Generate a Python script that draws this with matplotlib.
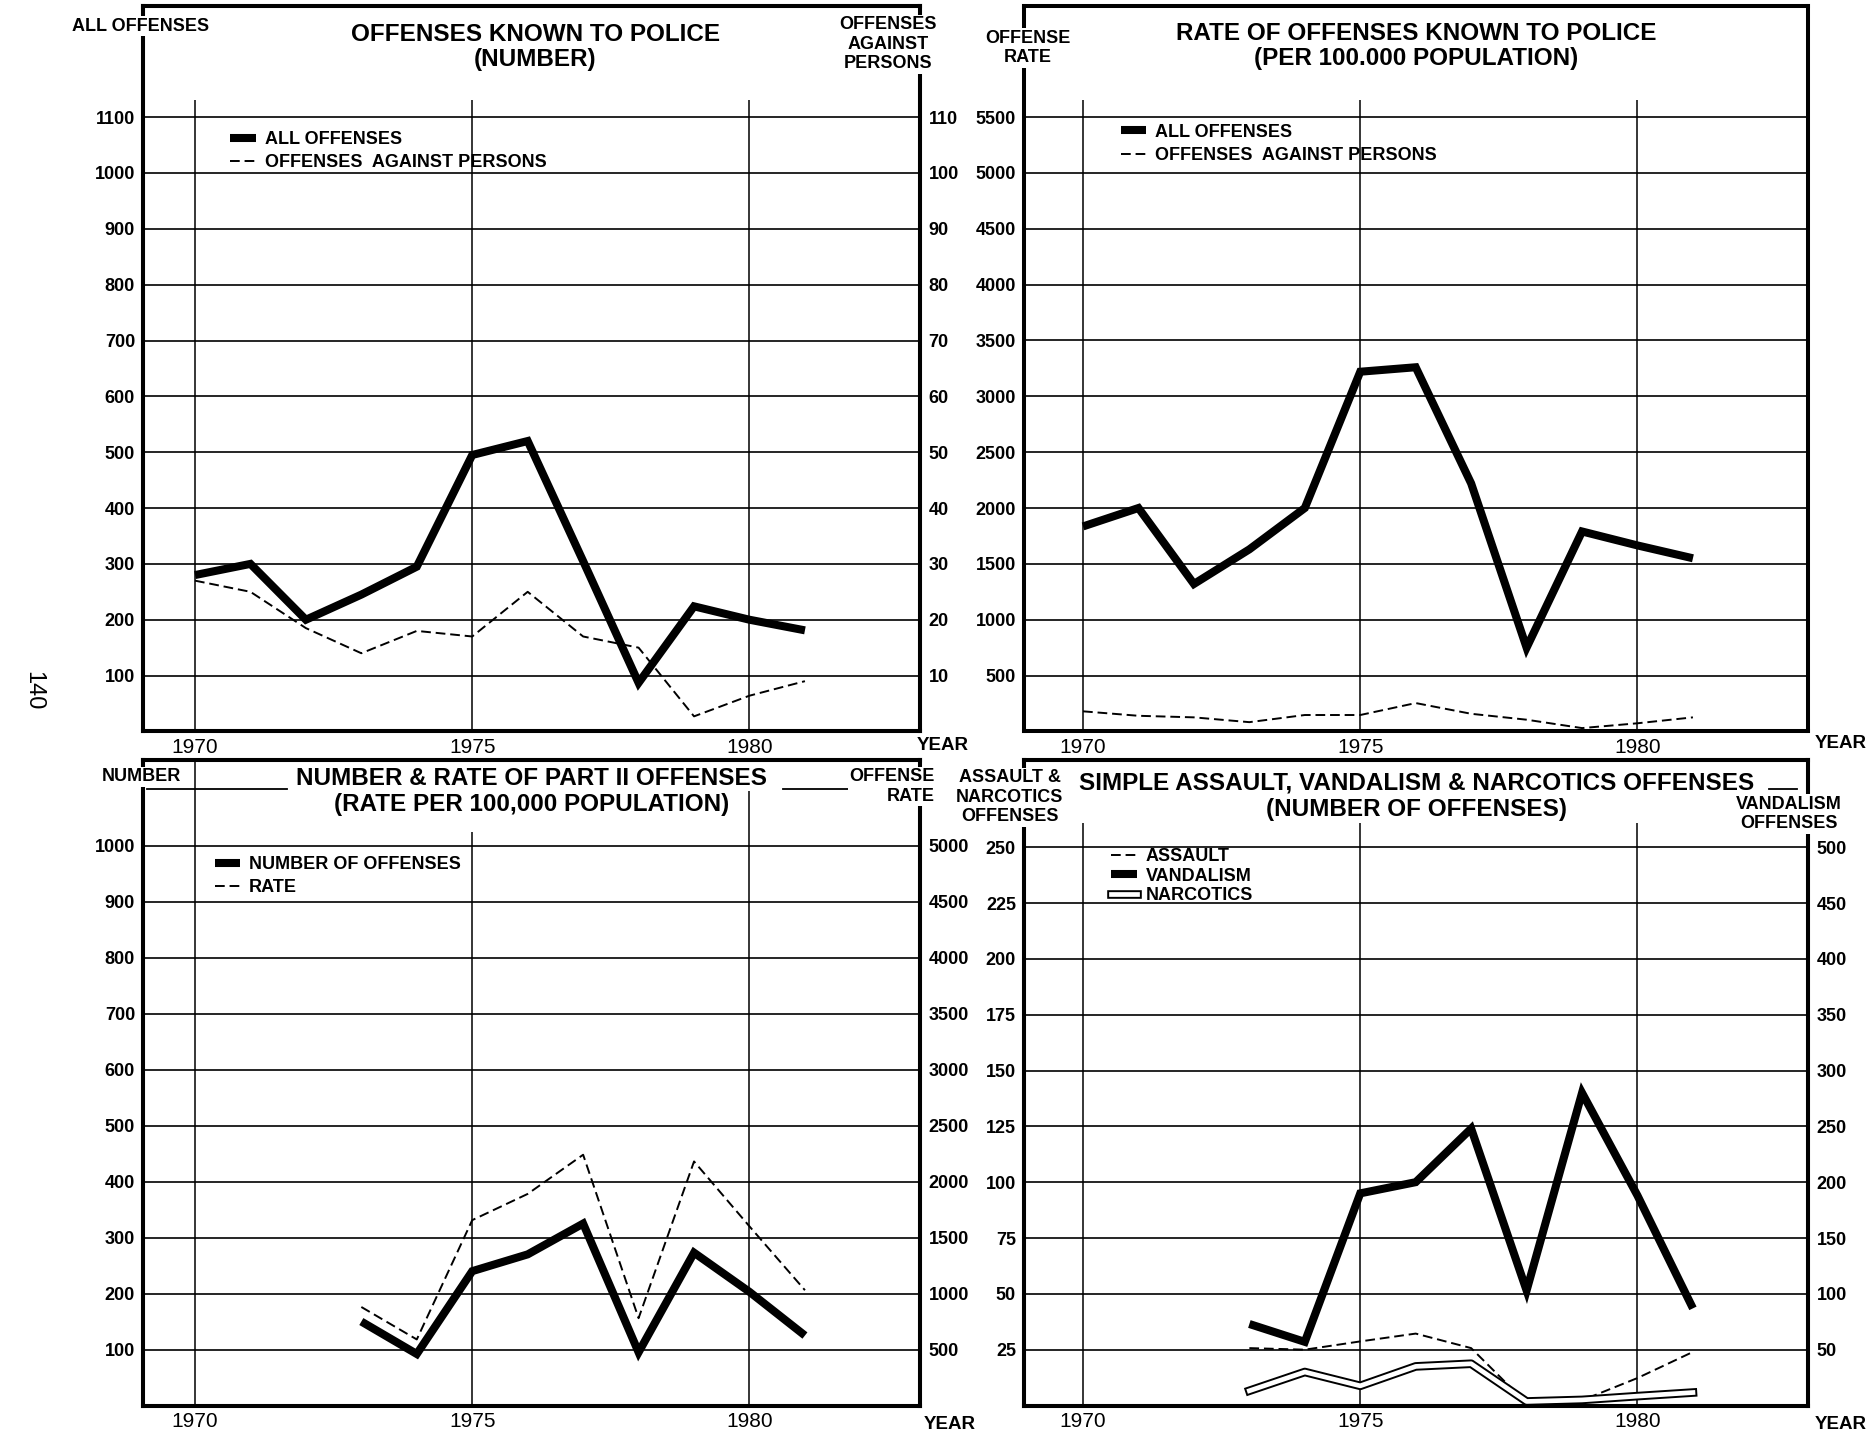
import matplotlib
matplotlib.use('Agg')
import matplotlib.pyplot as plt
import matplotlib.patheffects as pe

plt.rcParams['font.family'] = ['Liberation Sans', 'DejaVu Sans']

# data
years = list(range(1970, 1982))
all_offenses = [280, 300, 200, 245, 295, 495, 520, 305, 87, 224, 200, 181]
against_persons = [27, 25, 18.5, 14, 18, 17, 25, 17, 15, 2.7, 6.4, 9]

rate_all = [1835, 2000, 1320, 1630, 2000, 3220, 3260, 2220, 750, 1790, 1665, 1550]
rate_persons = [180, 140, 126, 83, 147, 147, 254, 158, 105, 30, 73, 126]

part2_years = list(range(1973, 1982))
part2_number = [150, 92, 240, 270, 325, 95, 273, 203, 125]
part2_rate = [880, 590, 1656, 1890, 2240, 780, 2180, 1600, 1030]

assault = [25.7, 25, 28.7, 32.2, 25.7, 1.0, 2.3, 12.3, 24]
vandalism = [73, 57, 190, 200, 248, 103, 280, 188, 87]
narcotics = [6.6, 15, 8.8, 17.5, 18.7, 1.8, 2.5, 4.2, 5.8]

year_ticks = [1970, 1975, 1980]

W, H = 1874, 1439
S = W / 1568.0   # positions below measured on a 1568 px wide copy

fig = plt.figure(figsize=(W / 100, H / 100), dpi=100)


def rect(l, t, r, b):
    return [l * S / W, 1 - b * S / H, (r - l) * S / W, (b - t) * S / H]


def ftext(x, y, s, size, ha='center', weight='bold', **kw):
    fig.text(x * S / W, 1 - y * S / H, s, fontsize=size, ha=ha, va='center',
             fontweight=weight, linespacing=1.2,
             bbox=dict(fc='white', ec='none', pad=1), **kw)


def setup(ax, xlim, ylim, yticks, vtops):
    ax.set_xlim(xlim)
    ax.set_ylim(ylim)
    ax.set_yticks(yticks)
    ax.set_yticklabels([str(v) for v in yticks], fontweight='bold')
    ax.set_xticks(year_ticks)
    ax.set_xticklabels([str(y) for y in year_ticks], fontsize=15)
    ax.grid(axis='y', color='black', lw=1.2)
    for yr, top in zip(year_ticks, vtops):
        ax.vlines(yr, 0, top, color='black', lw=1.1, zorder=1.5)
    for sp in ax.spines.values():
        sp.set_linewidth(2.9)
    ax.tick_params(axis='y', length=0, labelsize=13, pad=6)
    ax.tick_params(axis='x', length=0, pad=5)


def twin(ax, ylim, yticks):
    ax2 = ax.twinx()
    ax2.set_ylim(ylim)
    ax2.set_yticks(yticks)
    ax2.set_yticklabels([str(v) for v in yticks], fontweight='bold')
    ax2.tick_params(axis='y', length=0, labelsize=13, pad=6)
    for sp in ax2.spines.values():
        sp.set_linewidth(2.9)
    return ax2


thick = dict(color='black', lw=5.8, solid_joinstyle='miter', solid_capstyle='butt')
dashed = dict(color='black', lw=1.4, dashes=(5, 2.5))
leg_kw = dict(frameon=False, handlelength=1.4, handletextpad=0.5,
              labelspacing=0.35, borderpad=0, borderaxespad=0, loc='center left',
              prop=dict(weight='bold', size=13))
TITLE = 17.5

# ---------- top left: offenses known to police (number)
ax = fig.add_axes(rect(120, 5, 770, 612))
setup(ax, (1969.07, 1983.08), (0, 1299), list(range(100, 1101, 100)), [1130] * 3)
ax2 = twin(ax, (0, 129.9), list(range(10, 111, 10)))
l1, = ax.plot(years, all_offenses, **thick)
l2, = ax2.plot(years, against_persons, **dashed)
ax2.legend([l1, l2], ['ALL OFFENSES', 'OFFENSES  AGAINST PERSONS'],
           bbox_to_anchor=(0.112, 0.80), **leg_kw)
ftext(118, 22, 'ALL OFFENSES', 13)
ftext(448, 29, 'OFFENSES KNOWN TO POLICE', TITLE)
ftext(448, 50, '(NUMBER)', TITLE)
ftext(743, 37, 'OFFENSES\nAGAINST\nPERSONS', 13)
ftext(789, 624, 'YEAR', 13.5)

# ---------- top right: rate per 100,000
ax = fig.add_axes(rect(857, 5, 1513, 612))
setup(ax, (1968.94, 1983.08), (0, 6494), list(range(500, 5501, 500)), [5650] * 3)
l1, = ax.plot(years, rate_all, **thick)
l2, = ax.plot(years, rate_persons, **dashed)
ax.legend([l1, l2], ['ALL OFFENSES', 'OFFENSES  AGAINST PERSONS'],
          bbox_to_anchor=(0.123, 0.81), **leg_kw)
ftext(860, 40, 'OFFENSE\nRATE', 13)
ftext(1185, 28, 'RATE OF OFFENSES KNOWN TO POLICE', TITLE)
ftext(1185, 49, '(PER 100.000 POPULATION)', TITLE)
ftext(1540, 622, 'YEAR', 13.5)

# ---------- bottom left: part II offenses
ax = fig.add_axes(rect(120, 636, 770, 1176))
setup(ax, (1969.07, 1983.08), (0, 1153), list(range(100, 1001, 100)), [1153, 1025, 1100])
ax2 = twin(ax, (0, 5765), list(range(500, 5001, 500)))
ax.axhline(1102, 0.005, 0.185, color='black', lw=1.3)
ax.axhline(1102, 0.823, 0.949, color='black', lw=1.3)
l1, = ax.plot(part2_years, part2_number, **thick)
l2, = ax2.plot(part2_years, part2_rate, **dashed)
ax2.legend([l1, l2], ['NUMBER OF OFFENSES', 'RATE'],
           bbox_to_anchor=(0.092, 0.82), **leg_kw)
ftext(118, 650, 'NUMBER', 13)
ftext(445, 651, 'NUMBER & RATE OF PART II OFFENSES', TITLE)
ftext(445, 673, '(RATE PER 100,000 POPULATION)', TITLE)
fig.text(782 * S / W, 1 - 658 * S / H, 'OFFENSE\nRATE', fontsize=13, ha='right',
         va='center', multialignment='right', fontweight='bold', linespacing=1.2,
         bbox=dict(fc='white', ec='none', pad=1))
ftext(795, 1192, 'YEAR', 13.5)

# ---------- bottom right: assault, vandalism, narcotics
ax = fig.add_axes(rect(857, 636, 1513, 1176))
setup(ax, (1968.94, 1983.08), (0, 289), list(range(25, 251, 25)), [261] * 3)
ax2 = twin(ax, (0, 578), list(range(50, 501, 50)))
ax.axhline(276, 0.95, 0.985, color='black', lw=1.3)
l1, = ax.plot(part2_years, assault, **dashed)
l3, = ax.plot(part2_years, narcotics, color='white', lw=3.4,
              path_effects=[pe.Stroke(linewidth=6.2, foreground='black'), pe.Normal()])
l2, = ax2.plot(part2_years, vandalism, **thick)
ax2.legend([l1, l2, l3], ['ASSAULT', 'VANDALISM', 'NARCOTICS'],
           bbox_to_anchor=(0.111, 0.82), **dict(leg_kw, labelspacing=0.15))
ftext(845, 667, 'ASSAULT &\nNARCOTICS\nOFFENSES', 13)
ftext(1185, 655, 'SIMPLE ASSAULT, VANDALISM & NARCOTICS OFFENSES', TITLE)
ftext(1185, 677, '(NUMBER OF OFFENSES)', TITLE)
ftext(1497, 681, 'VANDALISM\nOFFENSES', 13)
ftext(1540, 1192, 'YEAR', 13.5)

# page number
ftext(28, 578, '140', 17, weight='normal', rotation=270)

plt.savefig('out.png', dpi=100)
